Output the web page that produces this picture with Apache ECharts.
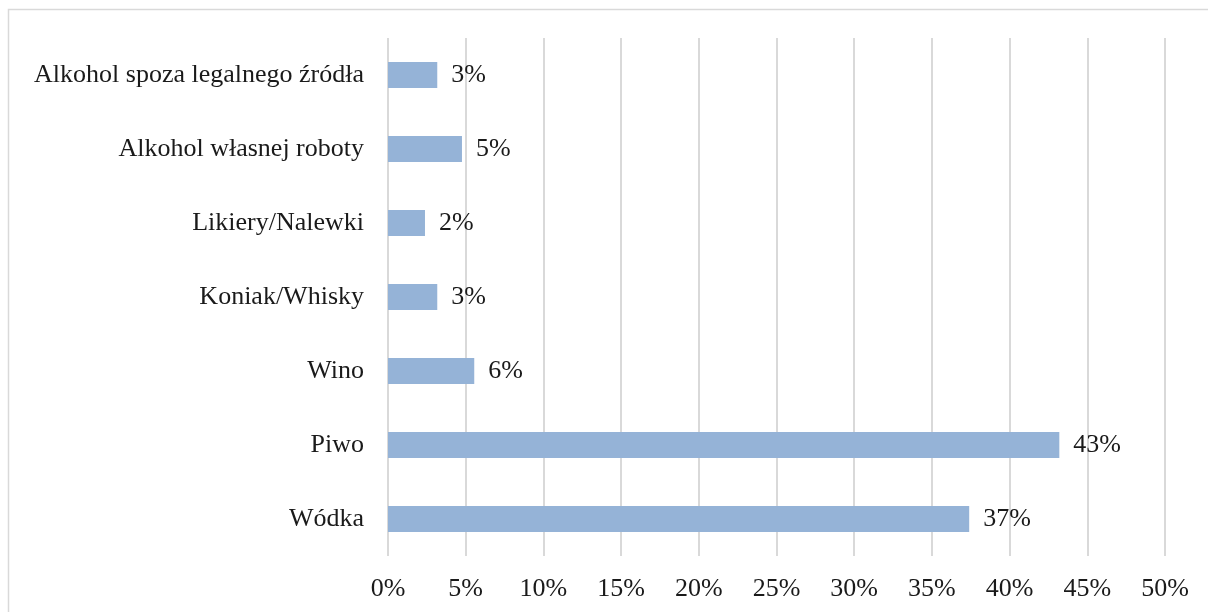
<!DOCTYPE html>
<html>
<head>
<meta charset="utf-8">
<script src="https://cdn.jsdelivr.net/npm/echarts@6/dist/echarts.min.js"></script>
<style>
  html, body { margin: 0; padding: 0; background: #fff; }
  #chart { width: 1208px; height: 612px; }
</style>
</head>
<body>
<div id="chart"></div>
<script>
// categories bottom -> top (as echarts draws category y axis)
const categories = ['Wódka', 'Piwo', 'Wino', 'Koniak/Whisky', 'Likiery/Nalewki', 'Alkohol własnej roboty', 'Alkohol spoza legalnego źródła']
const values = [37.4, 43.2, 5.55, 3.17, 2.38, 4.76, 3.17]
const xTicks = [0, 5, 10, 15, 20, 25, 30, 35, 40, 45, 50]

const font = 'Liberation Serif'
const txt = '#1a1a1a'

let myChart = echarts.init(document.getElementById('chart'))

const option = {
  animation: false,
  backgroundColor: '#fff',
  graphic: [{
    type: 'rect',
    shape: { x: 8.5, y: 9.5, width: 1220, height: 640 },
    style: { fill: 'none', stroke: '#d9d9d9', lineWidth: 1.5 },
    silent: true
  }],
  grid: { left: 388, right: 43, top: 38, bottom: 56, containLabel: false },
  xAxis: {
    type: 'value',
    min: xTicks[0],
    max: xTicks[xTicks.length - 1],
    interval: 5,
    axisLine: { show: false },
    axisTick: { show: false },
    splitLine: { show: true, lineStyle: { color: '#d9d9d9', width: 2 } },
    axisLabel: {
      formatter: v => v + '%',
      color: txt, fontFamily: font, fontSize: 26, margin: 20
    }
  },
  yAxis: {
    type: 'category',
    data: categories,
    axisLine: { show: false },
    axisTick: { show: false },
    axisLabel: { color: txt, fontFamily: font, fontSize: 26, margin: 24, padding: [4, 0, 0, 0] }
  },
  series: [{
    type: 'bar',
    data: values,
    barWidth: 26,
    itemStyle: { color: '#95b3d7' },
    label: {
      show: true,
      position: 'right',
      distance: 14,
      padding: [4, 0, 0, 0],
      formatter: p => Math.round(p.value) + '%',
      color: txt, fontFamily: font, fontSize: 26
    }
  }]
}
myChart.setOption(option)
</script>
</body>
</html>
